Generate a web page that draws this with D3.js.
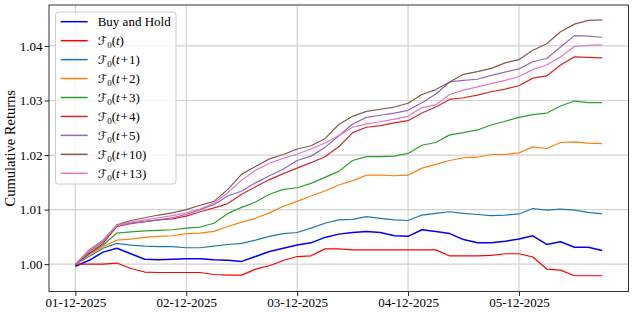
<!DOCTYPE html>
<html>
<head>
<meta charset="utf-8">
<script src="https://cdn.jsdelivr.net/npm/d3@7"></script>
<style>
  body { margin: 0; background: #fff; }
  text { font-family: "Liberation Serif", "Times New Roman", serif; }
</style>
</head>
<body>
<div id="chart"></div>
<script>
// Data (days since 01-12-2025, cumulative returns)
var dayOffsets = [0, 0.125, 0.25, 0.375, 0.5, 0.625, 0.75, 0.875, 1, 1.125,
  1.25, 1.375, 1.5, 1.625, 1.75, 1.875, 2, 2.125, 2.25, 2.375,
  2.5, 2.625, 2.75, 2.875, 3, 3.125, 3.25, 3.375, 3.5, 3.625,
  3.75, 3.875, 4, 4.125, 4.25, 4.375, 4.5, 4.625, 4.75];

var buyHold = [0.9996, 1.0007, 1.0022, 1.0029, 1.0019, 1.0009, 1.0008, 1.0009, 1.0010, 1.0010,
  1.0008, 1.0007, 1.0005, 1.0014, 1.0023, 1.0029, 1.0035, 1.0039, 1.0049, 1.0055,
  1.0058, 1.0060, 1.0058, 1.0052, 1.0051, 1.0063, 1.0060, 1.0056, 1.0045, 1.0039,
  1.0039, 1.0042, 1.0046, 1.0052, 1.0036, 1.0041, 1.0031, 1.0031, 1.0025];

var f0t = [1.0000, 1.0000, 1.0000, 1.0002, 0.9992, 0.99855, 0.99846, 0.99846, 0.99846, 0.99846,
  0.99810, 0.99800, 0.99798, 0.99908, 0.99970, 1.00066, 1.00139, 1.00152, 1.0028, 1.0028,
  1.00262, 1.00262, 1.00262, 1.00262, 1.00262, 1.00262, 1.00262, 1.0015, 1.0015, 1.0015,
  1.0016, 1.0019, 1.0019, 1.0013, 0.9991, 0.9989, 0.99787, 0.99787, 0.99787];

var f0t1 = [1.0000, 1.0014, 1.0029, 1.0038, 1.0035, 1.0033, 1.0032, 1.0032, 1.0030, 1.0030,
  1.0033, 1.0036, 1.0038, 1.0044, 1.0051, 1.0056, 1.0058, 1.0066, 1.0075, 1.0081,
  1.0082, 1.0087, 1.0084, 1.0081, 1.0080, 1.0090, 1.0093, 1.0096, 1.0093, 1.0091,
  1.0089, 1.0090, 1.0092, 1.0102, 1.0099, 1.0101, 1.0099, 1.0095, 1.0092];

var f0t2 = [1.0000, 1.0017, 1.0032, 1.0044, 1.0046, 1.0049, 1.0051, 1.0052, 1.0056, 1.0057,
  1.0060, 1.0069, 1.0077, 1.0084, 1.0094, 1.0106, 1.0115, 1.0125, 1.0134, 1.0145,
  1.0153, 1.0163, 1.0163, 1.0162, 1.0163, 1.0176, 1.0183, 1.0190, 1.0195, 1.0196,
  1.0201, 1.0201, 1.0204, 1.0215, 1.0212, 1.0223, 1.0224, 1.0222, 1.0221];

var f0t3 = [1.0000, 1.0019, 1.0035, 1.0057, 1.0059, 1.0061, 1.0062, 1.0063, 1.0066, 1.0068,
  1.0075, 1.0093, 1.0104, 1.0114, 1.0128, 1.0137, 1.0140, 1.0148, 1.0159, 1.0170,
  1.0190, 1.0197, 1.0197, 1.0198, 1.0203, 1.0218, 1.0223, 1.0237, 1.0241, 1.0246,
  1.0255, 1.0262, 1.0269, 1.0274, 1.0277, 1.0290, 1.0299, 1.0296, 1.0296];

var f0t4 = [1.0000, 1.0020, 1.0038, 1.0069, 1.0074, 1.0078, 1.0081, 1.0083, 1.0088, 1.0096,
  1.0103, 1.0111, 1.0128, 1.0142, 1.0155, 1.0166, 1.0176, 1.0186, 1.0197, 1.0215,
  1.0241, 1.0251, 1.0254, 1.0259, 1.0263, 1.0277, 1.0288, 1.0302, 1.0305, 1.0310,
  1.0316, 1.0321, 1.0327, 1.0341, 1.0345, 1.0365, 1.0380, 1.0379, 1.0378];

var f0t5 = [1.0000, 1.0023, 1.0041, 1.0071, 1.0075, 1.0078, 1.0081, 1.0085, 1.0091, 1.0100,
  1.0109, 1.0125, 1.0134, 1.0149, 1.0162, 1.0174, 1.0190, 1.0198, 1.0214, 1.0235,
  1.0257, 1.0269, 1.0273, 1.0277, 1.0282, 1.0296, 1.0312, 1.0334, 1.0337, 1.0339,
  1.0346, 1.0352, 1.0358, 1.0371, 1.0377, 1.0398, 1.0419, 1.0418, 1.0416];

var f0t10 = [1.0000, 1.0026, 1.0044, 1.0072, 1.0080, 1.0085, 1.0090, 1.0094, 1.0100, 1.0108,
  1.0115, 1.0137, 1.0165, 1.0179, 1.0193, 1.0201, 1.0211, 1.0217, 1.0230, 1.0256,
  1.0271, 1.0280, 1.0284, 1.0288, 1.0295, 1.0311, 1.0320, 1.0334, 1.0348, 1.0353,
  1.0359, 1.0369, 1.0375, 1.0392, 1.0404, 1.0426, 1.0440, 1.0447, 1.0448];

var f0t13 = [1.0000, 1.0025, 1.0044, 1.0071, 1.0077, 1.0081, 1.0085, 1.0089, 1.0094, 1.0101,
  1.0112, 1.0131, 1.0154, 1.0172, 1.0185, 1.0194, 1.0202, 1.0211, 1.0222, 1.0236,
  1.0251, 1.0257, 1.0261, 1.0266, 1.0271, 1.0287, 1.0292, 1.0311, 1.0319, 1.0325,
  1.0331, 1.0337, 1.0344, 1.0357, 1.0365, 1.0380, 1.0399, 1.0401, 1.0402];

var seriesLabels = ["Buy and Hold", "t", "t+1", "t+2", "t+3", "t+4", "t+5", "t+10", "t+13"];
var seriesColors = ["#0000ff", "#ff0000", "#1f77b4", "#ff7f0e", "#2ca02c", "#d62728", "#9467bd", "#8c564b", "#e377c2"];
var seriesValues = [buyHold, f0t, f0t1, f0t2, f0t3, f0t4, f0t5, f0t10, f0t13];

var yTicks = [1.00, 1.01, 1.02, 1.03, 1.04];

// Chart setup
var svgWidth = 634;
var svgHeight = 314;
var plot = { left: 49, right: 628.5, top: 5, bottom: 291.5 };

var svg = d3.select("#chart")
  .append("svg")
  .attr("width", svgWidth)
  .attr("height", svgHeight);

var dayMs = 864e5;
var start = Date.UTC(2025, 11, 1);
var toDate = function (d) { return new Date(start + d * dayMs); };

// matplotlib-like 5% margins on x
var xExt = d3.extent(dayOffsets);
var xPad = (xExt[1] - xExt[0]) * 0.05;
var x = d3.scaleUtc()
  .domain([toDate(xExt[0] - xPad), toDate(xExt[1] + xPad)])
  .range([plot.left, plot.right]);

var y = d3.scaleLinear()
  .domain([0.99498, 1.04751])
  .range([plot.bottom, plot.top]);

// Grid
var grid = svg.append("g");
grid.selectAll("line.vx")
  .data(x.ticks(d3.utcDay.every(1)))
  .enter().append("line")
  .attr("x1", d => x(d)).attr("x2", d => x(d))
  .attr("y1", plot.top).attr("y2", plot.bottom)
  .attr("stroke", "#d2d2d2").attr("stroke-width", 1.2);
grid.selectAll("line.hy")
  .data(yTicks)
  .enter().append("line")
  .attr("x1", plot.left).attr("x2", plot.right)
  .attr("y1", d => y(d)).attr("y2", d => y(d))
  .attr("stroke", "#d2d2d2").attr("stroke-width", 1.2);

// Lines
svg.append("clipPath").attr("id", "clip")
  .append("rect")
  .attr("x", plot.left).attr("y", plot.top)
  .attr("width", plot.right - plot.left).attr("height", plot.bottom - plot.top);

var line = d3.line()
  .x((d, i) => x(toDate(dayOffsets[i])))
  .y(d => y(d));

svg.append("g").attr("clip-path", "url(#clip)")
  .selectAll("path")
  .data(seriesValues)
  .enter().append("path")
  .attr("d", d => line(d))
  .attr("fill", "none")
  .attr("stroke", (d, i) => seriesColors[i])
  .attr("stroke-width", (d, i) => i === 0 ? 1.5 : 1.2)
  .attr("stroke-linejoin", "round");

// Axes
var xAxis = svg.append("g")
  .attr("transform", `translate(0, ${plot.bottom})`)
  .call(d3.axisBottom(x)
    .ticks(d3.utcDay.every(1))
    .tickFormat(d3.utcFormat("%d-%m-%Y"))
    .tickSize(4.5)
    .tickPadding(1.5)
    .tickSizeOuter(0));

var yAxis = svg.append("g")
  .attr("transform", `translate(${plot.left}, 0)`)
  .call(d3.axisLeft(y)
    .tickValues(yTicks)
    .tickFormat(d3.format(".2f"))
    .tickSize(4.5)
    .tickPadding(2)
    .tickSizeOuter(0));

[xAxis, yAxis].forEach(function (g) {
  g.select(".domain").remove();
  g.selectAll("text")
    .attr("font-size", 13)
    .attr("font-family", "Liberation Serif")
    .attr("fill", "#000");
  g.selectAll("line").attr("stroke", "#222").attr("stroke-width", 1);
});

// Frame
svg.append("rect")
  .attr("x", plot.left).attr("y", plot.top)
  .attr("width", plot.right - plot.left).attr("height", plot.bottom - plot.top)
  .attr("fill", "none").attr("stroke", "#333").attr("stroke-width", 1);

// Y label
svg.append("text")
  .attr("transform", `translate(15, ${(plot.top + plot.bottom) / 2}) rotate(-90)`)
  .attr("text-anchor", "middle")
  .attr("font-size", 14.5)
  .text("Cumulative Returns");

// Legend
var legend = svg.append("g");
legend.append("rect")
  .attr("x", 55.5).attr("y", 12)
  .attr("width", 120.5).attr("height", 172)
  .attr("rx", 3)
  .attr("fill", "#fff").attr("fill-opacity", 0.8)
  .attr("stroke", "#cccccc").attr("stroke-width", 1);

var rows = legend.selectAll("g.row")
  .data(seriesLabels)
  .enter().append("g")
  .attr("transform", (d, i) => `translate(0, ${21.7 + i * 18.95})`);

rows.append("line")
  .attr("x1", 60.7).attr("x2", 87.7)
  .attr("stroke", (d, i) => seriesColors[i])
  .attr("stroke-width", 1.5);

rows.each(function (label, i) {
  var t = d3.select(this).append("text")
    .attr("x", 97.7)
    .attr("dy", "0.33em")
    .attr("font-size", 13);
  if (i === 0) {
    t.text(label);
    return;
  }
  // script F with subscript 0, then (t+k)
  t.append("tspan").attr("font-family", "DejaVu Sans").attr("font-size", 12).text("\u2131");
  t.append("tspan").attr("font-size", 9).attr("dy", 3).text("0");
  t.append("tspan").attr("dy", -3).text("(");
  t.append("tspan").attr("font-style", "italic").text("t");
  if (label.length > 1) t.append("tspan").text("\u200a" + label.slice(1).replace("+", "+\u200a") + ")");
  else t.append("tspan").text(")");
});
</script>
</body>
</html>
